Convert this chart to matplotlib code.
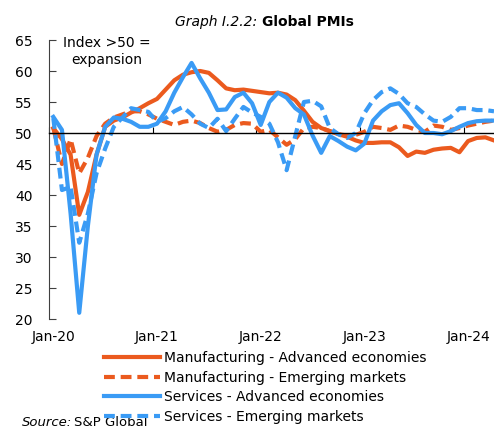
import numpy as np
import matplotlib
matplotlib.use("Agg")
import matplotlib.pyplot as plt

# monthly PMIs, Jan-20 .. Apr-24
months = np.arange(52)
tick_labels = ["Jan-20", "Jan-21", "Jan-22", "Jan-23", "Jan-24"]

mfg_adv = [50.8, 49.0, 46.5, 36.8, 40.5, 46.5, 51.0, 52.0, 52.5, 53.3, 54.0, 54.8,
           55.5, 57.0, 58.5, 59.4, 59.8, 60.0, 59.7, 58.5, 57.2, 56.9, 57.0, 56.8,
           56.6, 56.4, 56.5, 56.2, 55.3, 53.6, 51.8, 50.8, 50.3, 49.8, 49.4, 48.8,
           48.4, 48.4, 48.5, 48.5, 47.7, 46.3, 47.0, 46.8, 47.3, 47.5, 47.6, 46.9,
           48.7, 49.2, 49.3, 48.8]
mfg_em = [50.8, 45.0, 49.0, 43.5, 46.0, 49.5, 51.5, 52.5, 53.0, 53.5, 53.5, 53.0,
          52.3, 51.8, 51.3, 51.8, 52.0, 51.6, 50.8, 50.2, 50.5, 51.3, 51.6, 51.5,
          50.2, 50.5, 49.3, 48.1, 49.0, 50.8, 51.0, 50.8, 50.3, 49.8, 49.6, 49.7,
          50.2, 51.0, 50.8, 50.5, 51.2, 51.0, 50.5, 50.2, 51.2, 51.0, 50.5, 50.8,
          51.2, 51.5, 51.8, 52.0]
svc_adv = [52.6, 50.5, 37.0, 21.0, 35.0, 46.5, 51.0, 52.5, 52.3, 51.8, 51.0, 51.0,
           51.5, 53.5, 56.5, 59.0, 61.3, 58.8, 56.5, 53.7, 53.8, 55.8, 56.5, 54.8,
           51.3, 55.0, 56.5, 55.7, 54.0, 53.0, 49.6, 46.8, 49.5, 48.7, 47.8, 47.2,
           48.3, 52.0, 53.5, 54.5, 54.8, 53.2, 51.3, 50.0, 50.0, 49.8, 50.3, 51.0,
           51.6, 51.9, 52.0, 52.0]
svc_em = [52.4, 40.8, 41.3, 32.3, 37.0, 43.5, 47.5, 51.0, 52.5, 54.0, 53.7, 53.4,
          51.8, 52.4, 53.5, 54.2, 53.0, 51.5, 50.8, 52.3, 50.3, 52.3, 54.2, 53.3,
          52.6, 51.5, 48.5, 44.0, 49.5, 55.0, 55.2, 54.3, 50.8, 49.8, 49.2, 50.0,
          53.2, 55.3, 56.6, 57.2, 56.3, 54.8, 54.2, 53.0, 52.0, 51.8, 52.6, 54.0,
          54.0, 53.7, 53.7, 53.5]

orange = "#EB5A1E"
blue = "#3A9BF5"

fig = plt.figure(figsize=(4.94, 4.30), dpi=100)
ax = fig.add_axes([49 / 494, 1 - 319 / 430, 1 - 49 / 494, (319 - 40) / 430])

lw = 3.0
ax.plot(months, mfg_adv, color=orange, lw=lw, label="Manufacturing - Advanced economies")
ax.plot(months, mfg_em, color=orange, lw=lw, dashes=(2.6, 1.4), label="Manufacturing - Emerging markets")
ax.plot(months, svc_adv, color=blue, lw=lw, label="Services - Advanced economies")
ax.plot(months, svc_em, color=blue, lw=lw, dashes=(2.6, 1.4), label="Services - Emerging markets")

ax.set_ylim(20, 65)
ax.set_xlim(-0.5, 51.0)
ax.set_yticks(np.arange(20, 66, 5))
ax.tick_params(axis="y", direction="in", length=5, pad=12, labelsize=10, color="#404040")

# x axis line crosses at 50, tick marks between categories
ax.spines["bottom"].set_position(("data", 50))
ax.spines["bottom"].set_linewidth(1.0)
ax.spines["left"].set_color("#404040")
ax.spines["top"].set_visible(False)
ax.spines["right"].set_visible(False)
ax.set_xticks(np.arange(-0.5, 51, 12))
ax.tick_params(axis="x", direction="in", length=4, labelbottom=False)

sec = ax.secondary_xaxis("bottom")
sec.set_xticks(months[::12], tick_labels)
sec.tick_params(length=0, pad=8, labelsize=10)
sec.spines["bottom"].set_visible(False)

ax.text(0.13, 0.96, "Index >50 =\nexpansion", transform=ax.transAxes,
        ha="center", va="center", fontsize=10, linespacing=1.25)

fig.text(175 / 494, 1 - 22 / 430, "Graph I.2.2:", style="italic", fontsize=10, va="center", ha="left")
fig.text(262 / 494, 1 - 22 / 430, "Global PMIs", weight="bold", fontsize=10, va="center", ha="left")

fig.legend(loc="upper left", bbox_to_anchor=(104 / 494, 1 - 351 / 430), frameon=False,
           fontsize=10, handlelength=4.0, handletextpad=0.35, labelspacing=0.4,
           borderpad=0, borderaxespad=0)

fig.text(22 / 494, 1 - 416 / 430, "Source:", style="italic", fontsize=9.5, va="top", ha="left")
fig.text(74 / 494, 1 - 416 / 430, "S&P Global", fontsize=9.5, va="top", ha="left")

fig.savefig("out.png", dpi=100)
